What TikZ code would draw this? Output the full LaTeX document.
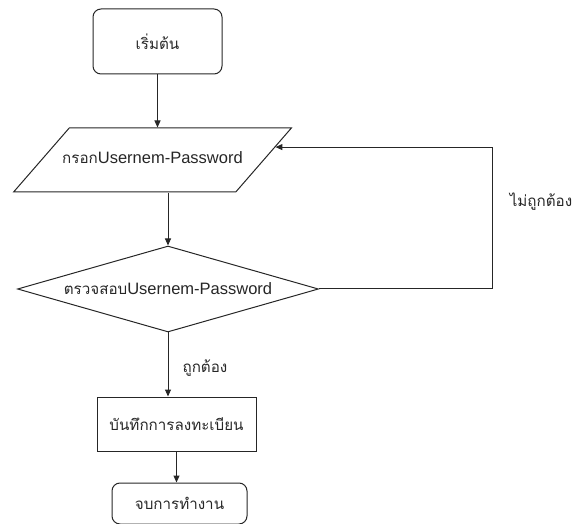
\documentclass[tikz,border=0pt]{standalone}
\usepackage{fontspec}
\setmainfont{Liberation Sans}
\newfontfamily\thai[Script=Thai, Scale=0.92]{Loma}
\usetikzlibrary{shapes.geometric, arrows.meta}

\begin{document}
\begin{tikzpicture}[x=1pt, y=-1pt, line width=1pt, draw=black!85,
	font=\fontsize{16.5}{19}\selectfont, text=black!85,
	>={Triangle[length=7pt, width=6pt]},
	termbox/.style = {draw, rounded corners=8pt, inner sep=0pt},
	iobox/.style = {draw, trapezium, trapezium left angle=49, trapezium right angle=131,
		trapezium stretches body, inner xsep=-7pt, inner ysep=24pt, text height=12pt, text depth=4pt},
	checkbox/.style = {draw, diamond, aspect=3.5, inner sep=0pt, minimum width=301pt, minimum height=86pt},
	procbox/.style = {draw, rectangle, inner sep=0pt}]
	\useasboundingbox (0,0) rectangle (582,524);
	% flow
	\node[termbox, minimum width=129pt, minimum height=65pt] (start) at (157.5,41.5) {\thai เริ่มต้น};
	\node[iobox] (input) at (152.5,160) {{\thai กรอก}Usernem-Password};
	\node[checkbox] (check) at (168,289) {{\thai ตรวจสอบ}Usernem-Password};
	\node[procbox, minimum width=159pt, minimum height=54pt] (save) at (176.5,424) {\thai บันทึกการลงทะเบียน};
	\node[termbox, minimum width=135pt, minimum height=41pt] (finish) at (179.5,503.5) {\thai จบการทำงาน};
	% labels
	\node (wrong) at (541,202) {\thai ไม่ถูกต้อง};
	\node (right) at (205,368) {\thai ถูกต้อง};
	% arrows
	\draw[->] (start) -- (start |- input.north);
	\draw[->] (check.north |- input.south) -- (check.north);
	\draw[->] (check.south) -- (check.south |- save.north);
	\draw[->] (save.south) -- (save.south |- finish.north);
	\draw[->] (check.east) -- ++(173,0) |- (input.6);
\end{tikzpicture}
\end{document}
